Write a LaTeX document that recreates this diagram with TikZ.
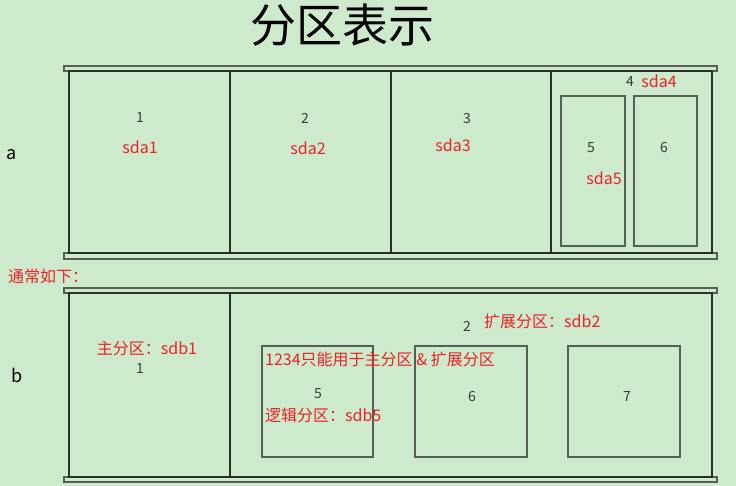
\documentclass[tikz,border=0pt]{standalone}
\usepackage{fontspec}
\setmainfont{Noto Sans CJK SC}
\definecolor{BgClr}{RGB}{205,235,204}
\definecolor{LineClr}{RGB}{40,48,40}
\definecolor{BoxClr}{RGB}{85,95,85}
\definecolor{NoteClr}{RGB}{238,32,40}
\definecolor{NumClr}{RGB}{55,60,55}

\begin{document}
\begin{tikzpicture}[x=1pt,y=-1pt,
  bar/.style={draw=BoxClr,line width=1.1pt,fill=BgClr},
  part/.style={draw=LineClr,line width=1.2pt},
  sub/.style={draw=BoxClr,line width=1.1pt},
  num/.style={text=NumClr,inner sep=0pt,font=\fontsize{14}{14}\selectfont},
  note/.style={text=NoteClr,inner sep=0pt,font=\fontsize{16}{16}\selectfont},
  side/.style={inner sep=0pt,font=\fontsize{18}{18}\selectfont}]
\fill[BgClr] (0,0) rectangle (736,486);
\useasboundingbox (0,0) rectangle (736,486);

\node[inner sep=0pt,font=\fontsize{46}{46}\selectfont] (title) at (342,25) {分区表示};

% a
\draw[bar] (64,66) rectangle (717,71);
\draw[bar] (64,253) rectangle (717,259);
\draw[part] (69,71) rectangle (712,253);
\foreach \x in {230,391,551}
  \draw[part] (\x,71) -- (\x,253);
\draw[sub] (561,96) rectangle (625,246);
\draw[sub] (634,96) rectangle (697,246);

\node[side] (la) at (12,155) {a};
\node[num] (a1) at (140,118) {1};
\node[note] (sda1) at (140,147) {sda1};
\node[num] (a2) at (305,118) {2};
\node[note] (sda2) at (308,148) {sda2};
\node[num] (a3) at (467,119) {3};
\node[note] (sda3) at (453,145) {sda3};
\node[num] (a4) at (630,82) {4};
\node[note] (sda4) at (659,81) {sda4};
\node[num] (a5) at (591,148) {5};
\node[note] (sda5) at (604,178) {sda5};
\node[num] (a6) at (664,148) {6};

\node[note,anchor=west] (usual) at (8,276) {通常如下：};

% b
\draw[bar] (64,288) rectangle (717,293);
\draw[bar] (64,477) rectangle (717,482);
\draw[part] (69,293) rectangle (712,477);
\draw[part] (230,293) -- (230,477);
\draw[sub] (262,346) rectangle (373,457);
\draw[sub] (415,346) rectangle (527,457);
\draw[sub] (568,346) rectangle (680,457);

\node[side] (lb) at (17,375) {b};
\node[note] (sdb1) at (147,348) {主分区：sdb1};
\node[num] (b1) at (140,369) {1};
\node[num] (b2) at (467,326) {2};
\node[note,anchor=west] (sdb2) at (484,321) {扩展分区：sdb2};
\node[note,anchor=west] (rule) at (265,359) {1234只能用于主分区 \& 扩展分区};
\node[num] (b5) at (318,394) {5};
\node[note,anchor=west] (sdb5) at (265,415) {逻辑分区：sdb5};
\node[num] (b6) at (472,397) {6};
\node[num] (b7) at (627,397) {7};
\end{tikzpicture}
\end{document}
